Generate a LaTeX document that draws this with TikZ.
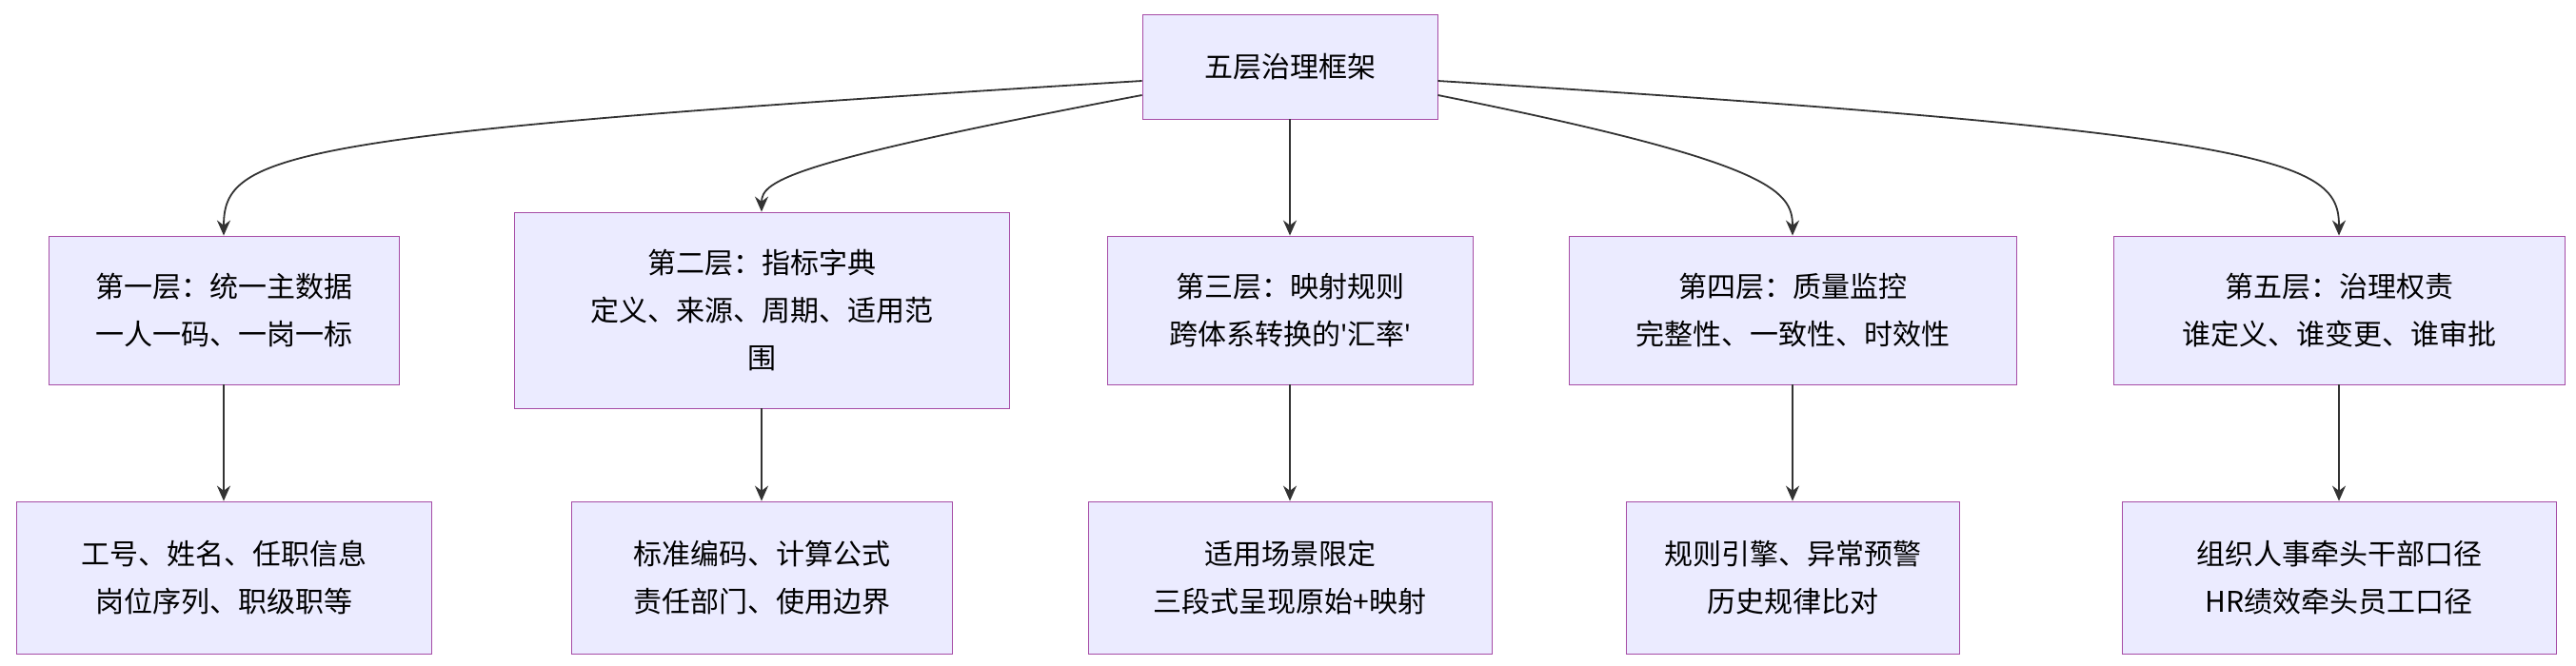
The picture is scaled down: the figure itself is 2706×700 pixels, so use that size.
\documentclass[tikz,border=0pt]{standalone}
\usepackage{fontspec}
\setmainfont{Noto Sans CJK SC}
\newfontfamily\latinq{Noto Sans}
\usetikzlibrary{positioning}
\usetikzlibrary{arrows.meta}
\tikzset{box/.style={draw=violet!70,fill=blue!8,align=center,font=\fontsize{15}{25}\selectfont,inner sep=0pt},
  link/.style={-{Stealth[length=8pt,width=7pt]},line width=0.9pt,black!80}}
\begin{document}
\begin{tikzpicture}[x=0.5pt,y=-0.5pt]
	\useasboundingbox (0,0) rectangle (2706,700);
	\node[box,minimum width=155pt,minimum height=55pt] at (1355,70) (top) {五层治理框架};

	\node[box,minimum width=184pt,minimum height=78pt] at (235,326) (L1) {第一层：统一主数据\\一人一码、一岗一标};
	\node[box,minimum width=260pt,minimum height=103pt] at (800,326) (L2) {第二层：指标字典\\定义、来源、周期、适用范\\围};
	\node[box,minimum width=192pt,minimum height=78pt] at (1355,326) (L3) {第三层：映射规则\\跨体系转换的{\latinq'}汇率{\latinq'}};
	\node[box,minimum width=235pt,minimum height=78pt] at (1883,326) (L4) {第四层：质量监控\\完整性、一致性、时效性};
	\node[box,minimum width=237pt,minimum height=78pt] at (2457,326) (L5) {第五层：治理权责\\谁定义、谁变更、谁审批};

	\node[box,minimum width=218pt,minimum height=80pt] at (235,607) (B1) {工号、姓名、任职信息\\岗位序列、职级职等};
	\node[box,minimum width=200pt,minimum height=80pt] at (800,607) (B2) {标准编码、计算公式\\责任部门、使用边界};
	\node[box,minimum width=212pt,minimum height=80pt] at (1355,607) (B3) {适用场景限定\\三段式呈现原始+映射};
	\node[box,minimum width=175pt,minimum height=80pt] at (1883,607) (B4) {规则引擎、异常预警\\历史规律比对};
	\node[box,minimum width=228pt,minimum height=80pt] at (2457,607) (B5) {组织人事牵头干部口径\\HR绩效牵头员工口径};

	\draw[link] (top.west |- 0,85) .. controls (300,140) and (235,160) .. (L1.north);
	\draw[link] (top.west |- 0,100) .. controls (830,170) and (800,190) .. (L2.north);
	\draw[link] (top) -- (L3);
	\draw[link] (top.east |- 0,100) .. controls (1860,170) and (1883,200) .. (L4.north);
	\draw[link] (top.east |- 0,85) .. controls (2400,140) and (2457,170) .. (L5.north);
	\foreach \i in {1,...,5}
		\draw[link] (L\i) -- (B\i);
\end{tikzpicture}
\end{document}
